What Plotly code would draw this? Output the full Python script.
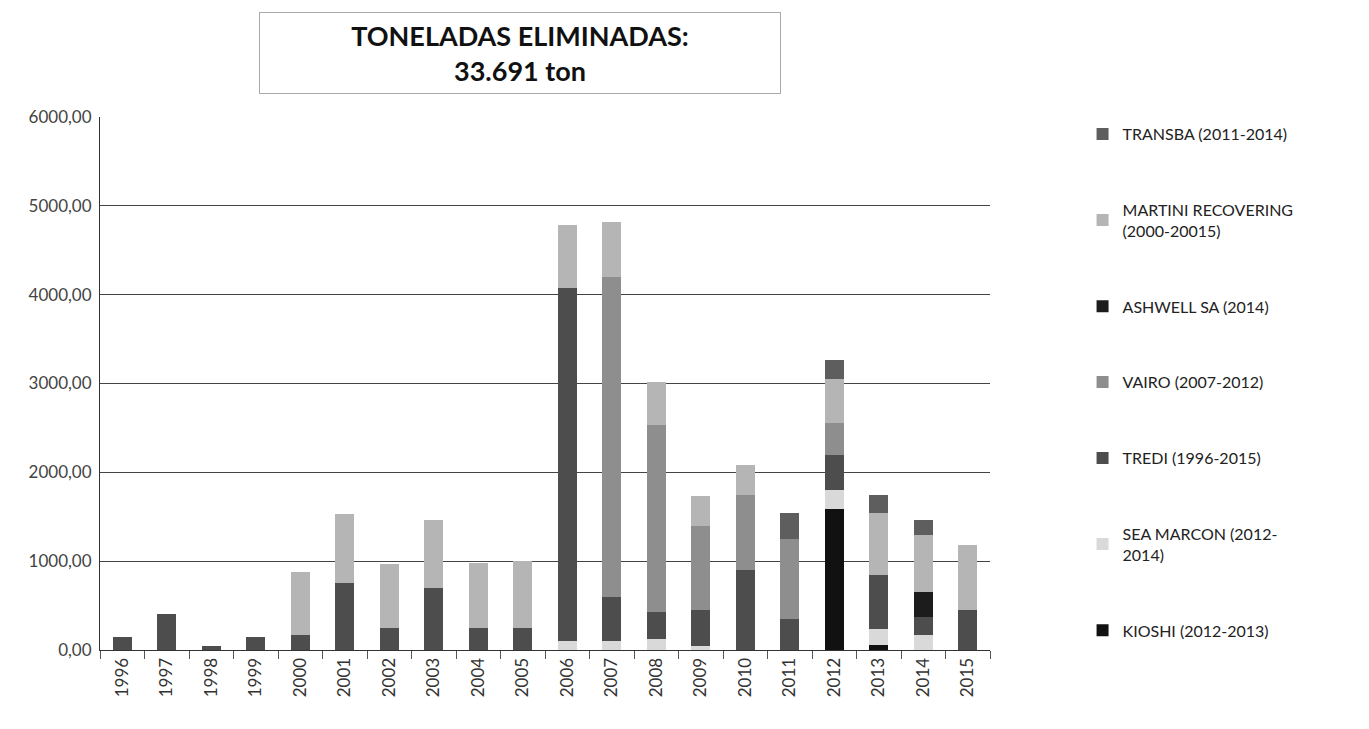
import plotly.graph_objects as go

years = ["1996", "1997", "1998", "1999", "2000", "2001", "2002", "2003", "2004", "2005",
         "2006", "2007", "2008", "2009", "2010", "2011", "2012", "2013", "2014", "2015"]

# stacked from bottom to top
kioshi =    [0, 0, 0, 0, 0, 0, 0, 0, 0, 0, 0, 0, 0, 0, 0, 0, 1590, 60, 0, 0]
sea_marcon = [0, 0, 0, 0, 0, 0, 0, 0, 0, 0, 100, 100, 120, 50, 0, 0, 210, 180, 170, 0]
tredi =     [150, 400, 40, 150, 170, 750, 250, 700, 250, 250, 3980, 500, 310, 400, 900, 350, 400, 600, 200, 450]
vairo =     [0, 0, 0, 0, 0, 0, 0, 0, 0, 0, 0, 3600, 2100, 950, 850, 900, 350, 0, 0, 0]
ashwell =   [0, 0, 0, 0, 0, 0, 0, 0, 0, 0, 0, 0, 0, 0, 0, 0, 0, 0, 280, 0]
martini =   [0, 0, 0, 0, 710, 780, 715, 760, 730, 750, 700, 620, 490, 330, 330, 0, 500, 700, 640, 730]
transba =   [0, 0, 0, 0, 0, 0, 0, 0, 0, 0, 0, 0, 0, 0, 0, 290, 210, 200, 170, 0]

series = [
    ("KIOSHI (2012-2013)", kioshi, "#111111"),
    ("SEA MARCON (2012-<br>2014)", sea_marcon, "#d9d9d9"),
    ("TREDI (1996-2015)", tredi, "#4d4d4d"),
    ("VAIRO (2007-2012)", vairo, "#8e8e8e"),
    ("ASHWELL SA (2014)", ashwell, "#1c1c1c"),
    ("MARTINI RECOVERING<br>(2000-20015)", martini, "#b5b5b5"),
    ("TRANSBA (2011-2014)", transba, "#5e5e5e"),
]

fig = go.Figure()
n = len(series)
for i, (name, vals, col) in enumerate(series):
    fig.add_trace(go.Bar(
        x=years, y=vals, name=name, legendgroup=f"g{i}",
        legendrank=(n - i) * 10,
        marker=dict(color=col, line=dict(width=0)),
    ))

fig.update_layout(
    width=1369, height=729,
    barmode="stack", bargap=0.58,
    paper_bgcolor="white", plot_bgcolor="white",
    margin=dict(l=92, r=387, t=109, b=87),
    font=dict(family="Lato, Open Sans, sans-serif", size=16, color="#222222"),
    separators=",.",
    showlegend=True,
    legend=dict(
        x=1.104, xanchor="left", y=1.0, yanchor="top",
        traceorder="grouped", tracegroupgap=52,
        font=dict(size=16, color="#222222"),
        itemwidth=30,
    ),
    xaxis=dict(
        type="category", tickangle=-90, showline=True, linecolor="#333333",
        ticks="outside", tickson="boundaries", ticklen=8, tickcolor="#555555",
        tickfont=dict(size=17, color="#333333"), showgrid=False,
    ),
    yaxis=dict(
        range=[0, 6000], dtick=1000, tickformat=".2f",
        showline=True, linecolor="#333333", showgrid=True, gridcolor="#444444",
        gridwidth=1, tickfont=dict(size=17, color="#444444"), zeroline=False,
        ticks="", ticklabelstandoff=4,
    ),
    annotations=[dict(
        xref="paper", yref="paper", x=0.472, y=1.12,
        xanchor="center", yanchor="middle",
        text="<b>TONELADAS ELIMINADAS:</b><br><b>33.691 ton</b>",
        showarrow=False, font=dict(size=27, color="#111111", family="Lato, Open Sans, sans-serif"),
        bordercolor="#aaaaaa", borderwidth=1, borderpad=3,
        width=514, height=74, align="center", bgcolor="white",
    )],
)

fig.write_html("out.html")
